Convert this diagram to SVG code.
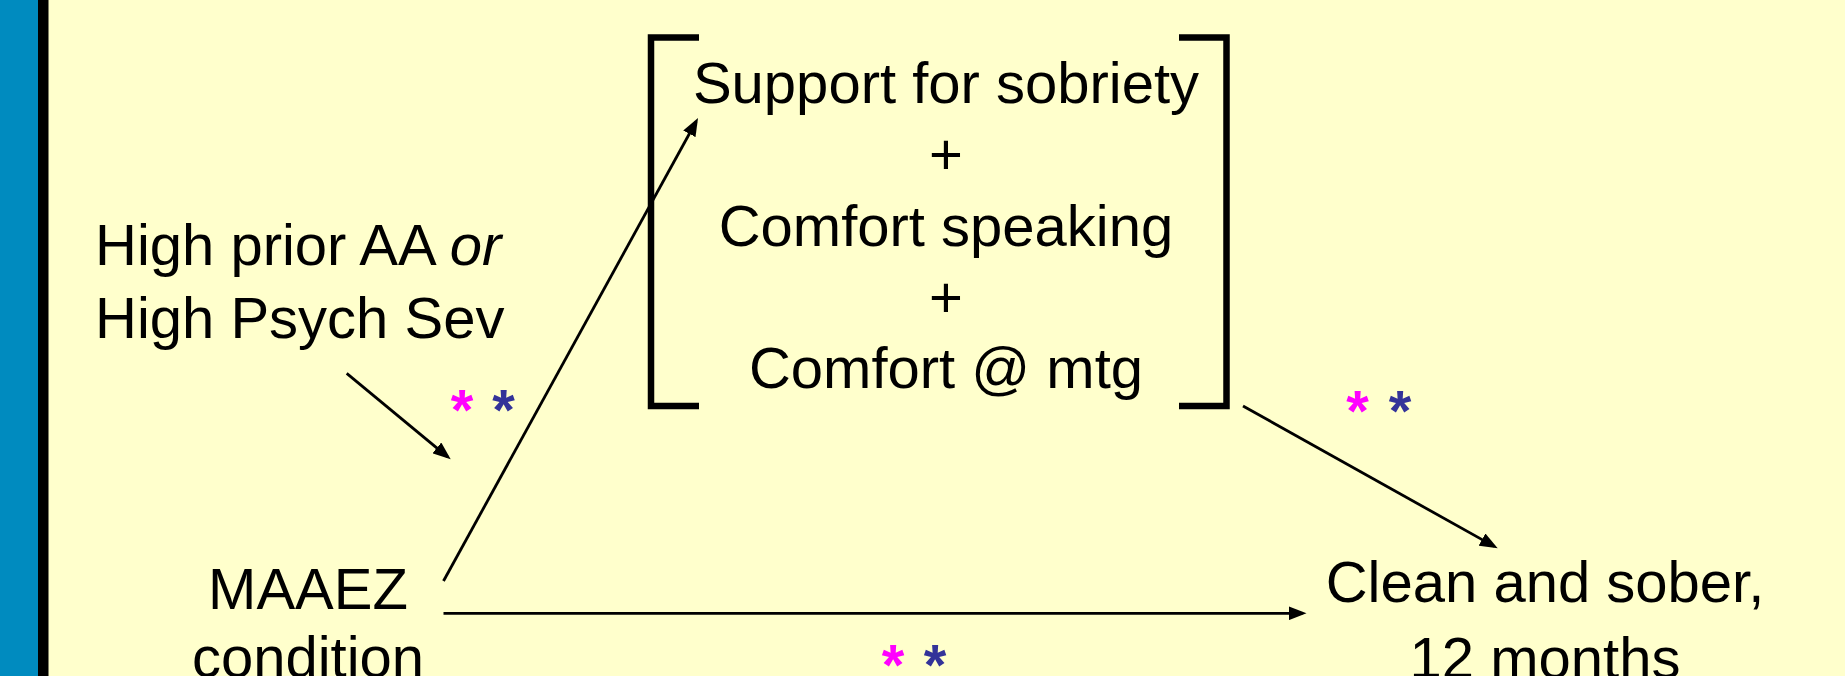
<svg xmlns="http://www.w3.org/2000/svg" width="1845" height="676" viewBox="0 0 1845 676">
  <defs>
    <style>
      .t { font-family: "Liberation Sans", Arial, sans-serif; font-size: 58px; fill: #000; }
      .c { text-anchor: middle; }
      .ast { font-family: "Liberation Sans", Arial, sans-serif; font-size: 58px; font-weight: bold; text-anchor: middle; }
      .m { fill: #FF00FF; }
      .b { fill: #333399; }
      .conn { stroke: #000; stroke-width: 2.8; fill: none; marker-end: url(#ah); }
      .br { stroke: #000; stroke-width: 6.5; fill: none; stroke-linejoin: miter; }
    </style>
    <marker id="ah" markerWidth="18" markerHeight="14" refX="14" refY="7" orient="auto" markerUnits="userSpaceOnUse">
      <path d="M0,0 L18,7 L0,14 z" fill="#000"/>
    </marker>
  </defs>

  <rect x="0" y="0" width="1845" height="676" fill="#FFFFCC"/>
  <rect x="0" y="0" width="38" height="676" fill="#008BBF"/>
  <rect x="38" y="0" width="10.5" height="676" fill="#000"/>

  <g id="mediators">
    <path class="br" d="M699,37.5 H651 V406 H699"/>
    <path class="br" d="M1179,37.5 H1226.5 V406 H1179"/>
    <text class="t c" x="946" y="103">Support for sobriety</text>
    <text class="t c" x="946" y="174">+</text>
    <text class="t c" x="946" y="245.5">Comfort speaking</text>
    <text class="t c" x="946" y="317">+</text>
    <text class="t c" x="946" y="388">Comfort @ mtg</text>
  </g>

  <g id="moderator">
    <text class="t" x="95" y="265">High prior AA <tspan font-style="italic">or</tspan></text>
    <text class="t" x="95" y="338">High Psych Sev</text>
  </g>

  <g id="maaez">
    <text class="t c" x="308" y="609">MAAEZ</text>
    <text class="t c" x="308" y="677">condition</text>
  </g>

  <g id="outcome">
    <text class="t c" x="1545" y="602">Clean and sober,</text>
    <text class="t c" x="1545" y="678">12 months</text>
  </g>

  <g id="connectors">
    <line class="conn" x1="346.7" y1="373.3" x2="447.6" y2="456.8"/>
    <line class="conn" x1="443.5" y1="581" x2="696.1" y2="121.5"/>
    <line class="conn" x1="1243" y1="406" x2="1494.2" y2="546.4"/>
    <line class="conn" x1="443.5" y1="613.3" x2="1302.5" y2="613.3"/>
  </g>

  <g id="significance">
    <text class="ast m" x="462" y="430">*</text>
    <text class="ast b" x="503.5" y="430">*</text>
    <text class="ast m" x="1357.5" y="431">*</text>
    <text class="ast b" x="1400" y="431">*</text>
    <text class="ast m" x="893" y="685">*</text>
    <text class="ast b" x="935" y="685">*</text>
  </g>
</svg>
